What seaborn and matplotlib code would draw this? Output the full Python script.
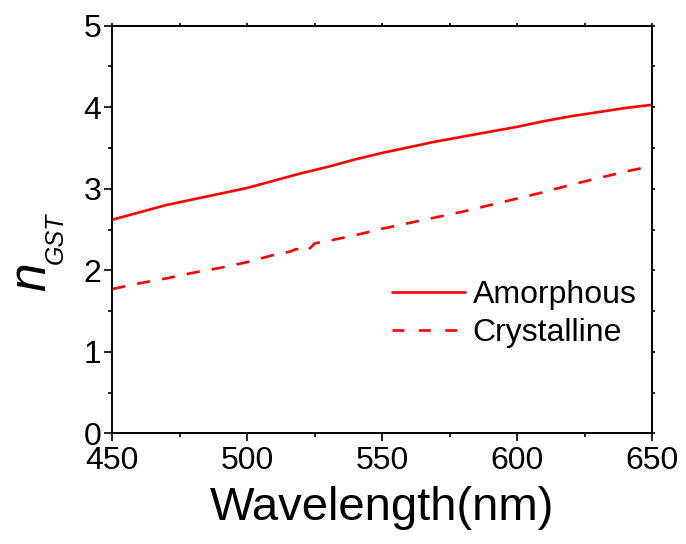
import numpy as np
import pandas as pd
import seaborn as sns
import matplotlib
matplotlib.use("Agg")
import matplotlib.pyplot as plt
from matplotlib.ticker import MultipleLocator
from matplotlib.lines import Line2D

# ---- data ----
wl_amorphous = [450, 460, 470, 480, 490, 500, 510, 520, 530, 540, 550,
                560, 570, 580, 590, 600, 610, 620, 630, 640, 650]
n_amorphous = [2.62, 2.71, 2.80, 2.87, 2.94, 3.01, 3.10, 3.19, 3.27, 3.36, 3.44,
               3.51, 3.58, 3.64, 3.70, 3.76, 3.83, 3.89, 3.94, 3.99, 4.03]

wl_crystalline = [450, 460, 470, 480, 490, 500, 510, 516, 518, 520, 522, 525,
                  530, 540, 550, 560, 570, 580, 590, 600, 610, 620, 630, 640, 650]
n_crystalline = [1.77, 1.84, 1.90, 1.97, 2.03, 2.10, 2.19, 2.23, 2.26, 2.25, 2.23, 2.33,
                 2.36, 2.43, 2.51, 2.58, 2.65, 2.72, 2.80, 2.88, 2.96, 3.05, 3.13, 3.21, 3.28]

labels = ["Amorphous", "Crystalline"]
x_label = "Wavelength(nm)"
x_ticks = [450, 500, 550, 600, 650]
y_ticks = [0, 1, 2, 3, 4, 5]

df = pd.concat([
    pd.DataFrame({"wl": wl_amorphous, "n": n_amorphous, "phase": labels[0]}),
    pd.DataFrame({"wl": wl_crystalline, "n": n_crystalline, "phase": labels[1]}),
], ignore_index=True)

sns.set_theme(style="ticks")
plt.rcParams["font.family"] = ["Liberation Sans", "DejaVu Sans"]
for k in ("text.color", "axes.labelcolor", "xtick.color", "ytick.color", "axes.edgecolor"):
    plt.rcParams[k] = "black"

W, H = 686, 544
fig = plt.figure(figsize=(W / 100, H / 100), dpi=100)
L, R, T, B = 112.3, 652.3, 25.7, 433.3
ax = fig.add_axes([L / W, 1 - B / H, (R - L) / W, (B - T) / H])

lw = 1.9
sns.lineplot(data=df, x="wl", y="n", style="phase", hue="phase",
             palette={labels[0]: "#ff0000", labels[1]: "#ff0000"},
             dashes={labels[0]: "", labels[1]: (5.0, 4.6)},
             estimator=None, sort=True, linewidth=lw, ax=ax, legend=False)

ax.set_xlim(450, 650)
ax.set_ylim(0, 5)
ax.set_xticks(x_ticks)
ax.set_yticks(y_ticks)
ax.xaxis.set_minor_locator(MultipleLocator(25))
ax.yaxis.set_minor_locator(MultipleLocator(0.5))

for s in ax.spines.values():
    s.set_visible(True)
    s.set_linewidth(1.4)
    s.set_color("black")

ax.tick_params(which="both", direction="out", top=True, right=True,
               labeltop=False, labelright=False, color="black", width=1.2,
               labelcolor="black")
ax.tick_params(which="major", length=5.5)
ax.tick_params(which="minor", length=3)
ax.tick_params(axis="x", which="major", labelsize=23, pad=3.5)
ax.tick_params(axis="y", which="major", labelsize=23, pad=2.5)
for axis in (ax.xaxis, ax.yaxis):
    for t in axis.get_major_ticks() + axis.get_minor_ticks():
        t.tick2line.set_markersize(2.5)

ax.set_xlabel(x_label, fontsize=34, color="black")
ax.xaxis.label.set_va("baseline")
ax.xaxis.set_label_coords(0.5, (B - 520) / (B - T))
ax.set_ylabel("")

# y label: italic n with subscript GST
fig.text(45 / W, 1 - 291 / H, "n", fontsize=37, style="italic", color="black",
         rotation=90, rotation_mode="anchor", ha="left", va="baseline")
fig.text(63 / W, 1 - 264 / H, "GST", fontsize=18, style="italic", color="black",
         rotation=90, rotation_mode="anchor", ha="left", va="baseline")

# legend
handles = [Line2D([], [], color="#ff0000", lw=lw),
           Line2D([], [], color="#ff0000", lw=lw, dashes=(4.5, 5.5))]
leg = ax.legend(handles, labels, loc="center left",
                bbox_to_anchor=(392 / W, 1 - 314 / H), bbox_transform=fig.transFigure,
                frameon=False, fontsize=23, handlelength=2.28, handletextpad=0.25,
                labelspacing=0.25, borderpad=0, borderaxespad=0)
for t in leg.get_texts():
    t.set_color("black")

fig.savefig("out.png", dpi=100, facecolor="white")
